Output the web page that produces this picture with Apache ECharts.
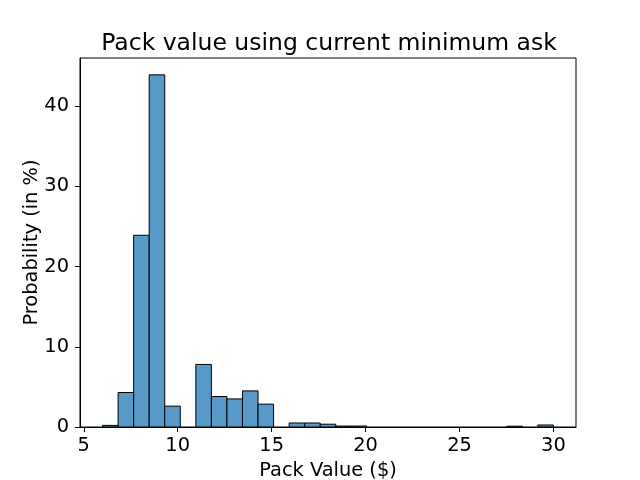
<!DOCTYPE html>
<html>
<head>
<meta charset="utf-8">
<script src="https://cdn.jsdelivr.net/npm/echarts@6/dist/echarts.min.js"></script>
<style>html,body{margin:0;padding:0;background:#fff}#c{width:640px;height:480px}</style>
</head>
<body>
<div id="c"></div>
<script>
// Histogram: 29 equal-width bins spanning binStart..binEnd
var binStart = 6;
var binEnd = 30;
var probabilities = [0.2, 4.3, 23.9, 43.9, 2.6, 0, 7.8, 3.8, 3.5, 4.5, 2.85, 0, 0.5, 0.5, 0.35, 0.12, 0.12, 0, 0, 0, 0, 0, 0, 0, 0, 0, 0.1, 0, 0.25];
var xTicks = [5, 10, 15, 20, 25, 30];
var yTicks = [0, 10, 20, 30, 40];

var nBins = probabilities.length;
var binWidth = (binEnd - binStart) / nBins;
var data = probabilities.map(function (p, i) {
  return [binStart + i * binWidth, binStart + (i + 1) * binWidth, p];
});

var chart = echarts.init(document.getElementById('c'), null, {renderer: 'canvas'});
var font = 'DejaVu Sans';
chart.setOption({
  animation: false,
  backgroundColor: '#fff',
  title: {
    text: 'Pack value using current minimum ask',
    left: 324, top: 27, textAlign: 'center',
    textStyle: {fontFamily: font, fontSize: 23.5, fontWeight: 'normal', color: '#000'}
  },
  grid: {left: 80, right: 64, top: 58, bottom: 53, outerBoundsMode: 'none', containLabel: false, show: true, borderColor: '#000', borderWidth: 1, backgroundColor: 'transparent'},
  xAxis: {
    type: 'value', min: 4.8, max: 31.2,
    name: 'Pack Value ($)', nameLocation: 'middle', nameGap: 34, nameMoveOverlap: false,
    nameTextStyle: {fontFamily: font, fontSize: 19.4, color: '#000'},
    axisLine: {show: true, onZero: false, lineStyle: {color: '#000', width: 1}},
    axisTick: {show: true, length: 5, inside: false, customValues: xTicks, lineStyle: {color: '#000'}},
    axisLabel: {customValues: xTicks, margin: 9, fontFamily: font, fontSize: 19.4, color: '#000'},
    splitLine: {show: false}
  },
  yAxis: {
    type: 'value', min: 0, max: 46,
    name: 'Probability (in %)', nameLocation: 'middle', nameGap: 39, nameMoveOverlap: false,
    nameTextStyle: {fontFamily: font, fontSize: 19.4, color: '#000'},
    axisLine: {show: true, lineStyle: {color: '#000', width: 1}},
    axisTick: {show: true, length: 5, inside: false, customValues: yTicks, lineStyle: {color: '#000'}},
    axisLabel: {customValues: yTicks, margin: 11, fontFamily: font, fontSize: 19.4, color: '#000'},
    splitLine: {show: false}
  },
  series: [{
    type: 'custom',
    data: data,
    encode: {x: [0, 1], y: 2},
    renderItem: function (params, api) {
      var h = api.value(2);
      if (!h) return null;
      var p0 = api.coord([api.value(0), 0]);
      var p1 = api.coord([api.value(1), h]);
      return {
        type: 'rect',
        shape: {x: p0[0], y: p1[1], width: p1[0] - p0[0], height: p0[1] - p1[1]},
        style: {fill: '#5799c7', stroke: '#000', lineWidth: 1}
      };
    }
  }]
});
</script>
</body>
</html>
